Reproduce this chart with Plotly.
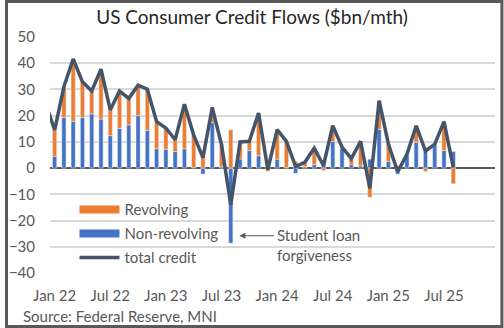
import pandas as pd
import plotly.graph_objects as go

# Monthly axis slots: Dec 2021 through Dec 2025 (axis is laid out to year-end 2025)
axis_months = pd.date_range("2021-12-01", "2025-12-01", freq="MS").strftime("%b %y").tolist()
bar_months = axis_months[1:45]      # Jan 22 .. Aug 25
line_months = axis_months[0:45]     # Dec 21 .. Aug 25

# Flows, $bn per month
non_revolving = [
    4.5, 19.3, 17.8, 19.3, 20.7, 18.7, 12.4, 15.1, 16.5, 20.0, 14.4, 7.4,
    7.2, 6.3, 7.4, 0.3, -2.3, 17.3, 0.5, -28.6, 3.5, 6.7, 4.7, 0.6,
    3.4, 0.2, -2.0, 0.5, 1.3, 1.9, 10.2, 7.6, 1.3, 0.9, 3.4, 14.7,
    2.5, -2.3, 5.1, 9.8, 7.8, 8.9, 6.7, 6.3,
]
revolving = [
    10.0, 11.7, 23.8, 13.6, 8.7, 19.0, 9.8, 14.3, 10.1, 11.6, 15.7, 10.3,
    8.1, 4.5, 17.0, 12.3, 6.3, 5.8, 8.5, 14.6, 6.5, 3.5, 16.3, -1.2,
    11.3, 10.0, 2.6, 1.8, 6.3, -0.9, 6.0, 0.4, 2.3, 9.3, -11.1, 11.0,
    6.7, 0.9, 0.2, 6.3, -1.3, 0.2, 11.0, -6.0,
]
total_credit = [
    25.0,
    14.5, 31.0, 41.6, 32.9, 29.4, 37.7, 22.2, 29.4, 26.6, 31.6, 30.1, 17.7,
    15.3, 10.8, 24.4, 12.6, 4.0, 23.1, 9.0, -14.0, 10.0, 10.2, 21.0, -0.6,
    14.7, 10.2, 0.6, 2.3, 7.6, 1.0, 16.2, 8.0, 3.6, 10.2, -7.7, 25.7,
    9.2, -1.4, 5.3, 16.1, 6.5, 9.1, 17.7, 0.3,
]

tick_labels = ["Jan 22", "Jul 22", "Jan 23", "Jul 23", "Jan 24", "Jul 24", "Jan 25", "Jul 25"]

ORANGE = "#ED7D31"
BLUE = "#4472C4"
SLATE = "#44546A"
GREY_TXT = "#595959"
FONT = "Lato"

fig = go.Figure()

fig.add_trace(go.Bar(x=bar_months, y=non_revolving, marker_color=BLUE, width=0.45,
                     showlegend=False, name="Non-revolving"))
fig.add_trace(go.Bar(x=bar_months, y=revolving, marker_color=ORANGE, width=0.45,
                     showlegend=False, name="Revolving"))
fig.add_trace(go.Scatter(x=line_months, y=total_credit, mode="lines",
                         line=dict(color=SLATE, width=3.5), showlegend=False,
                         name="total credit"))

# Legend entries drawn as thick strokes
for nm, col, w in [("Revolving", ORANGE, 8), ("Non-revolving", BLUE, 8), ("total credit", SLATE, 3.5)]:
    fig.add_trace(go.Scatter(x=[None], y=[None], mode="lines", name=nm,
                             line=dict(color=col, width=w), legendgroup=nm))

fig.update_layout(
    width=504, height=328,
    margin=dict(l=45, r=9, t=37, b=55),
    paper_bgcolor="white", plot_bgcolor="white",
    barmode="relative",
    font=dict(family=FONT, color=GREY_TXT, size=15),
    title=dict(text="US Consumer Credit Flows ($bn/mth)", x=0.5, xanchor="center",
               y=1 - 17 / 328, yanchor="middle",
               font=dict(family=FONT, size=19, color="#262626")),
    xaxis=dict(type="category", categoryorder="array", categoryarray=axis_months,
               range=[0.5, 48.5], tickmode="array", tickvals=tick_labels,
               ticktext=tick_labels, showgrid=False, showline=False, ticks="",
               ticklabelstandoff=12, tickfont=dict(size=15, color=GREY_TXT)),
    yaxis=dict(range=[-40, 50], dtick=10, showgrid=True, gridcolor="#D9D9D9",
               gridwidth=1.5, zeroline=True, zerolinecolor=GREY_TXT, zerolinewidth=2,
               ticks="", ticklabelstandoff=14, tickfont=dict(size=15, color=GREY_TXT)),
    legend=dict(x=0.055, y=0.338, xanchor="left", yanchor="top", bgcolor="rgba(0,0,0,0)",
                itemwidth=40, tracegroupgap=1.5, traceorder="grouped",
                font=dict(family=FONT, size=15, color=GREY_TXT)),
    shapes=[dict(type="rect", xref="paper", yref="paper",
                 x0=-44 / 450, x1=457 / 450, y0=-53.5 / 236, y1=271.5 / 236,
                 line=dict(color=GREY_TXT, width=3), layer="above")],
    annotations=[
        dict(x=20.93, y=-25.8, xref="x", yref="y", text="", showarrow=True,
             ax=36, ay=0, axref="pixel", ayref="pixel", arrowhead=2, arrowsize=1.2,
             arrowwidth=1, arrowcolor=GREY_TXT),
        dict(x=24.77, y=-21.15, xref="x", yref="y", xanchor="left", yanchor="top",
             align="left", showarrow=False, text="Student loan<br>forgiveness",
             font=dict(family=FONT, size=15, color=GREY_TXT)),
        dict(x=-29.5 / 450, y=-43 / 236, xref="paper", yref="paper", xanchor="left",
             yanchor="middle", showarrow=False, text="Source: Federal Reserve, MNI",
             font=dict(family=FONT, size=15, color=GREY_TXT)),
    ],
)

fig.write_html("out.html")
